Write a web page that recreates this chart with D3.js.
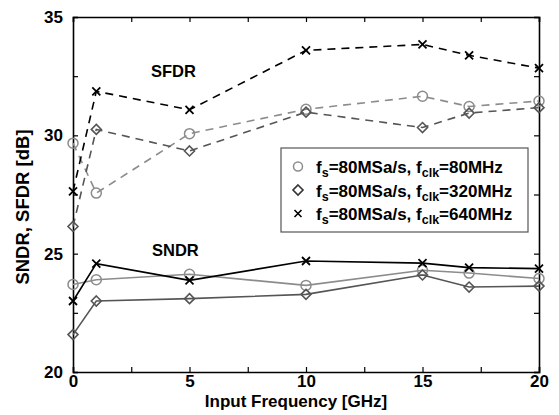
<!DOCTYPE html>
<html>
  <head>
    <meta charset="utf-8">
    <title>SNDR / SFDR</title>
    <script src="https://d3js.org/d3.v7.min.js"></script>
    <style>
      body { margin: 0; background: #fff; font-family: "Liberation Sans", Arial, sans-serif; }
      text { font-weight: bold; }
    </style>
  </head>
  <body>
    <svg></svg>
    <script>
      // input frequency [GHz]
      var freqs = [0, 1, 5, 10, 15, 17, 20];

      // SFDR (dashed) and SNDR (solid), one array per clock setting
      var sfdr80  = [29.67, 27.56, 30.07, 31.10, 31.65, 31.22, 31.45];
      var sfdr320 = [26.15, 30.25, 29.34, 30.98, 30.33, 30.94, 31.17];
      var sfdr640 = [27.63, 31.86, 31.08, 33.59, 33.84, 33.38, 32.84];
      var sndr80  = [23.70, 23.90, 24.13, 23.66, 24.30, 24.18, 23.95];
      var sndr320 = [21.58, 23.00, 23.10, 23.28, 24.10, 23.59, 23.63];
      var sndr640 = [23.00, 24.58, 23.87, 24.69, 24.60, 24.41, 24.37];

      var xTicks = [0, 5, 10, 15, 20];
      var yTicks = [20, 25, 30, 35];
      var clkLabels = ["80MHz", "320MHz", "640MHz"];

      var W = 559, H = 415;
      var m = {left: 73, right: 20, top: 17, bottom: 43};

      var svg = d3.select("svg").attr("width", W).attr("height", H);

      var x = d3.scaleLinear().domain([0, 20]).range([m.left, W - m.right]);
      var y = d3.scaleLinear().domain([20, 35]).range([H - m.bottom, m.top]);

      var styles = [
        {color: "#8c8c8c", marker: "circle"},
        {color: "#555555", marker: "diamond"},
        {color: "#000000", marker: "cross"}
      ];

      var series = [
        {vals: sfdr80, s: 0, dash: true},
        {vals: sfdr320, s: 1, dash: true},
        {vals: sfdr640, s: 2, dash: true},
        {vals: sndr80, s: 0, dash: false},
        {vals: sndr320, s: 1, dash: false},
        {vals: sndr640, s: 2, dash: false}
      ];

      // frame with ticks pointing inward on all four sides
      var minorX = d3.range(0, 20.01, 2.5);
      var minorY = d3.range(20, 35.01, 2.5);
      svg.append("g").attr("transform", "translate(0," + y(20) + ")")
        .call(d3.axisBottom(x).tickValues(minorX).tickSize(-5).tickFormat(function(d) {
          return xTicks.indexOf(d) >= 0 ? d : "";
        }).tickPadding(3))
        .call(function(g) { g.selectAll("text").style("font-size", "17px").attr("fill", "#000"); });
      svg.append("g").attr("transform", "translate(0," + y(35) + ")")
        .call(d3.axisTop(x).tickValues(minorX).tickSize(-5).tickFormat(""));
      svg.append("g").attr("transform", "translate(" + x(0) + ",0)")
        .call(d3.axisLeft(y).tickValues(minorY).tickSize(-5).tickFormat(function(d) {
          return yTicks.indexOf(d) >= 0 ? d : "";
        }).tickPadding(10))
        .call(function(g) { g.selectAll("text").style("font-size", "17px").attr("fill", "#000"); });
      svg.append("g").attr("transform", "translate(" + x(20) + ",0)")
        .call(d3.axisRight(y).tickValues(minorY).tickSize(-5).tickFormat(""));
      svg.selectAll(".domain").attr("stroke", "#000").attr("stroke-width", 1.6);
      svg.selectAll(".tick line").attr("stroke", "#000").attr("stroke-width", 1.2);

      var line = d3.line().x(function(d) { return x(d[0]); }).y(function(d) { return y(d[1]); });

      function marker(g, type, color) {
        if (type === "circle") {
          g.append("circle").attr("r", 5).attr("fill", "none").attr("stroke", color).attr("stroke-width", 1.5);
        } else if (type === "diamond") {
          g.append("path").attr("d", "M0,-5L5,0L0,5L-5,0Z").attr("fill", "none").attr("stroke", color).attr("stroke-width", 1.6);
        } else {
          g.append("path").attr("d", "M-4,-4L4,4M-4,4L4,-4").attr("stroke", color).attr("stroke-width", 1.8);
        }
      }

      series.forEach(function(se) {
        var st = styles[se.s];
        var pts = freqs.map(function(f, i) { return [f, se.vals[i]]; });
        svg.append("path").datum(pts)
          .attr("d", line)
          .attr("fill", "none")
          .attr("stroke", st.color)
          .attr("stroke-width", 1.6)
          .attr("stroke-dasharray", se.dash ? "8,6" : null);
        svg.append("g").selectAll("g").data(pts).enter().append("g")
          .attr("transform", function(d) { return "translate(" + x(d[0]) + "," + y(d[1]) + ")"; })
          .each(function() { marker(d3.select(this), st.marker, st.color); });
      });

      // annotations
      svg.append("text").attr("x", 151).attr("y", 77).style("font-size", "16.5px").text("SFDR");
      svg.append("text").attr("x", 152).attr("y", 256).style("font-size", "16.5px").text("SNDR");

      // axis titles
      svg.append("text").attr("x", 296).attr("y", 407)
        .attr("text-anchor", "middle").style("font-size", "17px").text("Input Frequency [GHz]");
      svg.append("text")
        .attr("transform", "translate(29,207) rotate(-90)")
        .attr("text-anchor", "middle").style("font-size", "18.5px").text("SNDR, SFDR [dB]");

      // legend
      var lg = svg.append("g");
      lg.append("rect").attr("x", 281).attr("y", 148).attr("width", 247).attr("height", 84)
        .attr("fill", "#fff").attr("stroke", "#555").attr("stroke-width", 1.2);
      clkLabels.forEach(function(lab, i) {
        var base = 173 + i * 23.5;
        var mg = lg.append("g").attr("transform", "translate(298," + (base - 6.5) + ")");
        if (styles[i].marker === "circle") {
          mg.append("circle").attr("r", 4.5).attr("fill", "none").attr("stroke", "#8c8c8c").attr("stroke-width", 1.5);
        } else if (styles[i].marker === "diamond") {
          mg.append("path").attr("d", "M0,-5L5,0L0,5L-5,0Z").attr("fill", "none").attr("stroke", "#333").attr("stroke-width", 1.6);
        } else {
          mg.append("path").attr("d", "M-3.5,-3.5L3.5,3.5M-3.5,3.5L3.5,-3.5").attr("stroke", "#000").attr("stroke-width", 1.6);
        }
        var t = lg.append("text").attr("x", 316).attr("y", base).style("font-size", "17px");
        t.append("tspan").text("f");
        t.append("tspan").attr("dy", 4).style("font-size", "12.5px").text("s");
        t.append("tspan").attr("dy", -4).text("=80MSa/s, f");
        t.append("tspan").attr("dy", 4).style("font-size", "12.5px").text("clk");
        t.append("tspan").attr("dy", -4).text("=" + lab);
      });
    </script>
  </body>
</html>
